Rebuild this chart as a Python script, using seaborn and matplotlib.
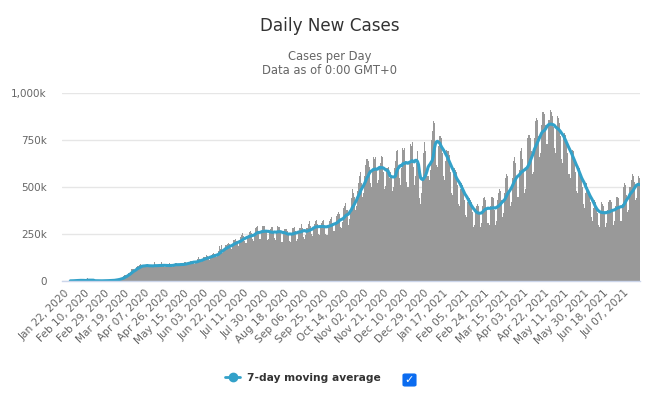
import numpy as np
import pandas as pd
import seaborn as sns
import matplotlib.pyplot as plt
from matplotlib.lines import Line2D
from matplotlib.patches import FancyBboxPatch

# daily new cases (thousands), one row per week starting on Wednesday
start_date = "2020-01-22"
daily_k = [
    0.6, 0.1, 0.3, 0.5, 0.7, 0.8, 2.7,
    0.6, 2.1, 1.7, 2.1, 4.7, 3.1, 4.0,
    3.7, 3.2, 3.6, 2.7, 3.0, 2.6, 2.0,
    0.4, 15.2, 6.5, 2.1, 2.2, 2.0, 1.9,
    0.5, 0.6, 1.0, 1.0, 0.6, 0.9, 0.9,
    1.1, 1.4, 1.5, 1.8, 2.0, 1.9, 2.5,
    2.3, 2.8, 3.9, 3.9, 3.9, 4.1, 4.6,
    7.2, 9.0, 11.1, 10.8, 12.9, 14.6, 17.2,
    19.8, 29.1, 32.3, 33.1, 33.9, 41.0, 41.0,
    50.1, 61.8, 64.1, 64.9, 57.7, 62.3, 73.4,
    78, 80, 85, 90, 80, 72, 76,
    82, 87, 90, 84, 77, 72, 72,
    82, 86, 100, 82, 78, 74, 77,
    80, 86, 103, 87, 78, 72, 78,
    76, 86, 94, 91, 79, 77, 81,
    89, 95, 97, 90, 79, 79, 85,
    88, 98, 98, 101, 83, 88, 94,
    101, 106, 109, 105, 99, 90, 94,
    108, 117, 127, 116, 107, 102, 112,
    128, 130, 136, 134, 115, 114, 132,
    140, 142, 148, 143, 132, 128, 145,
    160, 185, 170, 190, 150, 155, 178,
    190, 196, 205, 198, 178, 172, 192,
    218, 218, 226, 212, 200, 185, 215,
    232, 245, 255, 240, 215, 205, 235,
    245, 262, 268, 255, 225, 215, 245,
    285, 290, 292, 260, 225, 225, 265,
    292, 293, 295, 265, 218, 225, 258,
    275, 286, 290, 265, 230, 218, 255,
    292, 290, 290, 265, 210, 207, 257,
    278, 277, 268, 252, 215, 208, 250,
    283, 282, 290, 265, 215, 225, 267,
    285, 285, 305, 280, 233, 225, 243,
    285, 302, 318, 295, 252, 240, 282,
    305, 320, 325, 305, 248, 245, 282,
    310, 320, 325, 290, 250, 245, 297,
    320, 330, 340, 310, 268, 265, 304,
    345, 355, 370, 355, 290, 285, 312,
    390, 400, 415, 380, 300, 330, 380,
    440, 490, 470, 450, 380, 400, 480,
    520, 560, 580, 520, 450, 470, 560,
    620, 650, 640, 610, 520, 500, 580,
    660, 650, 660, 600, 520, 540, 610,
    630, 665, 660, 580, 490, 505, 600,
    610, 550, 580, 560, 480, 500, 600,
    640, 690, 700, 610, 550, 510, 600,
    710, 700, 710, 640, 530, 500, 630,
    730, 720, 740, 610, 510, 560, 630,
    690, 600, 440, 410, 470, 540, 680,
    740, 690, 560, 560, 540, 590, 750,
    800, 850, 840, 740, 620, 610, 720,
    770, 770, 760, 680, 560, 540, 640,
    700, 690, 670, 580, 470, 460, 570,
    600, 590, 580, 510, 410, 400, 490,
    520, 510, 490, 430, 350, 340, 420,
    440, 430, 420, 370, 290, 300, 360,
    400, 410, 400, 370, 290, 310, 400,
    440, 450, 430, 380, 310, 300, 400,
    450, 450, 440, 380, 300, 320, 430,
    470, 490, 480, 430, 340, 360, 470,
    550, 570, 560, 480, 400, 420, 550,
    640, 660, 630, 550, 450, 450, 590,
    690, 710, 650, 590, 470, 490, 610,
    760, 780, 760, 690, 570, 580, 760,
    850, 870, 860, 770, 660, 680, 830,
    900, 900, 890, 830, 730, 730, 860,
    910, 900, 880, 820, 710, 680, 820,
    880, 870, 840, 770, 650, 630, 760,
    790, 780, 750, 680, 570, 550, 680,
    700, 690, 650, 580, 480, 470, 580,
    600, 580, 560, 500, 410, 390, 470,
    520, 500, 470, 420, 340, 320, 390,
    430, 420, 400, 360, 300, 290, 370,
    420, 410, 400, 360, 290, 310, 380,
    420, 430, 420, 380, 300, 320, 400,
    450, 450, 440, 390, 320, 320, 410,
    500, 520, 510, 460, 370, 380, 500,
    540, 570, 560, 530, 430, 440, 520,
    560, 550,
]
y_ticks = [0, 250000, 500000, 750000, 1000000]
y_tick_labels = ["0", "250k", "500k", "750k", "1,000k"]
tick_step = 19

df = pd.DataFrame({"day": np.arange(len(daily_k)),
                   "cases": np.array(daily_k) * 1000})
df["date"] = pd.date_range(start_date, periods=len(df), freq="D")
df["ma7"] = df["cases"].rolling(7).mean()

sns.set_theme(style="white")
plt.rcParams["font.family"] = ["DejaVu Sans"]

W, H = 659, 408
fig = plt.figure(figsize=(W / 100, H / 100), dpi=100)
ax = fig.add_axes([62 / W, 1 - 281 / H, (640 - 62) / W, (281 - 93.3) / H])

bar_color = "#999999"
line_color = "#33a1c9"

sns.barplot(data=df, x="day", y="cases", native_scale=True, width=1.0,
            color=bar_color, saturation=1, linewidth=0, errorbar=None, ax=ax)
sns.lineplot(data=df.dropna(subset=["ma7"]), x="day", y="ma7",
             color=line_color, lw=2.2, ax=ax)

ax.set_xlim(-1.9, len(df) - 0.5)
ax.set_ylim(0, 1000000)

tick_days = np.arange(0, len(df), tick_step)
ax.set_xticks(tick_days)
ax.set_xticklabels(df["date"].iloc[tick_days].dt.strftime("%b %d, %Y"),
                   rotation=45, ha="right", rotation_mode="anchor",
                   fontsize=7.6, color="#666666")
ax.set_yticks(y_ticks)
ax.set_yticklabels(y_tick_labels, fontsize=7.5, color="#666666")
ax.tick_params(axis="x", length=0, pad=5)
ax.tick_params(axis="y", length=0, pad=11)
ax.set_xlabel("")
ax.set_ylabel("")

ax.yaxis.grid(True, color="#e6e6e6", lw=1)
ax.xaxis.grid(False)
ax.set_axisbelow(True)
for s in ["top", "right", "left"]:
    ax.spines[s].set_visible(False)
ax.spines["bottom"].set_color("#ccd6eb")
ax.spines["bottom"].set_linewidth(1)

fig.text(0.5, 1 - 26 / H, "Daily New Cases", ha="center", va="center",
         fontsize=12.1, color="#333333")
fig.text(0.5, 1 - 56.7 / H, "Cases per Day", ha="center", va="center",
         fontsize=8.3, color="#666666")
fig.text(0.5, 1 - 70.7 / H, "Data as of 0:00 GMT+0", ha="center",
         va="center", fontsize=8.3, color="#666666")

handle = Line2D([0], [0], color=line_color, lw=2, marker="o", markersize=6)
leg = fig.legend(handles=[handle], labels=["7-day moving average"],
                 loc="center", bbox_to_anchor=(303 / W, 1 - 378 / H),
                 frameon=False, handlelength=1.4, handletextpad=0.6,
                 prop={"weight": "bold", "size": 7.7})
for t in leg.get_texts():
    t.set_color("#333333")

box = FancyBboxPatch((403 / W, 1 - 386 / H), 13 / W, 12 / H,
                     boxstyle="round,pad=0,rounding_size=0.003",
                     transform=fig.transFigure, facecolor="#0b6cf0",
                     edgecolor="#0b6cf0", lw=0.8)
fig.patches.append(box)
fig.text(409.5 / W, 1 - 380 / H, "\u2713", ha="center", va="center",
         fontsize=8, color="white", fontweight="bold")

fig.savefig("out.png", dpi=100)
